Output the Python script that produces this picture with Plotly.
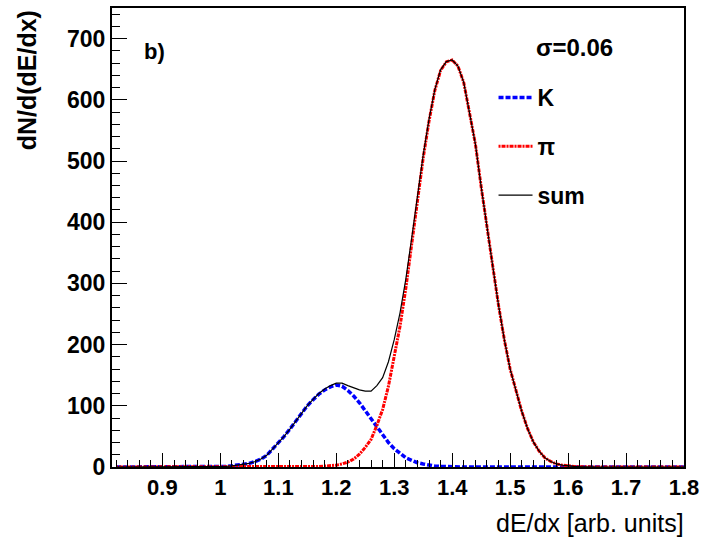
import plotly.graph_objects as go

# bin centres (dE/dx, arb. units)
x_bins = [0.82, 0.83, 0.84, 0.85, 0.86, 0.87, 0.88, 0.89, 0.90, 0.91,
          0.92, 0.93, 0.94, 0.95, 0.96, 0.97, 0.98, 0.99, 1.00, 1.01,
          1.02, 1.03, 1.04, 1.05, 1.06, 1.07, 1.08, 1.09, 1.10, 1.11,
          1.12, 1.13, 1.14, 1.15, 1.16, 1.17, 1.18, 1.19, 1.20, 1.21,
          1.22, 1.23, 1.24, 1.25, 1.26, 1.27, 1.28, 1.29, 1.30, 1.31,
          1.32, 1.33, 1.34, 1.35, 1.36, 1.37, 1.38, 1.39, 1.40, 1.41,
          1.42, 1.43, 1.44, 1.45, 1.46, 1.47, 1.48, 1.49, 1.50, 1.51,
          1.52, 1.53, 1.54, 1.55, 1.56, 1.57, 1.58, 1.59, 1.60, 1.61,
          1.62, 1.63, 1.64, 1.65, 1.66, 1.67, 1.68, 1.69, 1.70, 1.71,
          1.72, 1.73, 1.74, 1.75, 1.76, 1.77, 1.78, 1.79, 1.80]

kaon = [0]*17 + [0.5, 1, 1, 2, 3, 4, 6, 9, 13, 19,
                 29, 39, 50, 62, 75, 88, 100, 110, 119, 126,
                 131, 134, 132, 125, 116, 105, 92, 79, 65, 52,
                 40, 30, 22, 15, 11, 7, 5, 3, 1.5, 1,
                 0.5] + [0]*41

pion = [0]*33 + [0.3, 0.5, 1, 1.5, 2, 3, 5, 8, 13, 21,
                 32, 45, 68, 94, 132, 178, 230, 292, 362, 438,
                 505, 565, 615, 648, 662, 665, 655, 628, 578, 528,
                 458, 390, 328, 264, 208, 160, 124, 91, 63, 41,
                 26, 15, 9, 5, 3, 1.5, 1, 0.5] + [0]*18

total = [0]*17 + [0.5, 1, 1, 2, 3, 4, 6, 9, 13, 19,
                  29, 39, 50, 62, 75, 88, 100.3, 110.5, 120, 127.5,
                  133, 137, 137, 133, 129, 126, 124, 124, 133, 146,
                  172, 208, 252, 307, 373, 445, 510, 568, 616.5, 649,
                  662.5, 665, 655, 628, 578, 528, 458, 390, 328, 264,
                  208, 160, 124, 91, 63, 41, 26, 15, 9, 5,
                  3, 1.5, 1, 0.5] + [0]*18

y_ticks = [0, 100, 200, 300, 400, 500, 600, 700]
x_ticks = [0.9, 1.0, 1.1, 1.2, 1.3, 1.4, 1.5, 1.6, 1.7, 1.8]
x_labels = ["0.9", "1", "1.1", "1.2", "1.3", "1.4", "1.5", "1.6", "1.7", "1.8"]

FONT = "Liberation Sans, Arial, sans-serif"

fig = go.Figure()
fig.add_trace(go.Scatter(x=x_bins, y=kaon, name="K", mode="lines",
                         line=dict(color="#0000ff", width=3.5, dash="5px,2px"),
                         legendgroup="k"))
fig.add_trace(go.Scatter(x=x_bins, y=pion, name="π", mode="lines",
                         line=dict(color="#ff0000", width=3, dash="2px,1px,4px,1px"),
                         legendgroup="p"))
fig.add_trace(go.Scatter(x=x_bins, y=total, name="sum", mode="lines",
                         line=dict(color="#000000", width=1.2),
                         legendgroup="s"))

fig.update_layout(
    width=705, height=542,
    margin=dict(l=112, r=19, t=6, b=75),
    paper_bgcolor="white", plot_bgcolor="white",
    font=dict(family=FONT, color="black"),
    showlegend=True,
    legend=dict(x=0.667, y=0.852, xanchor="left", yanchor="top",
                bgcolor="rgba(0,0,0,0)", borderwidth=0,
                font=dict(size=23, family=FONT, weight="bold"),
                tracegroupgap=16, itemwidth=34),
    xaxis=dict(range=[0.813, 1.8], tickmode="array", tickvals=x_ticks,
               ticktext=x_labels, ticks="inside", ticklen=14, tickwidth=1,
               tickcolor="black", showline=True, linecolor="black",
               linewidth=2, mirror=True, showgrid=False, zeroline=False,
               tickfont=dict(size=22, family=FONT, weight="bold"),
               minor=dict(dtick=0.02, tick0=0.8, ticks="inside", ticklen=7,
                          tickwidth=1, tickcolor="black", showgrid=False)),
    yaxis=dict(range=[0, 750], tickmode="array", tickvals=y_ticks,
               ticks="inside", ticklen=15, tickwidth=1, tickcolor="black",
               showline=True, linecolor="black", linewidth=2, mirror=True,
               showgrid=False, zeroline=False,
               tickfont=dict(size=23, family=FONT, weight="bold"),
               minor=dict(dtick=20, tick0=0, ticks="inside", ticklen=8,
                          tickwidth=1, tickcolor="black", showgrid=False)),
    annotations=[
        dict(text="dN/d(dE/dx)", textangle=-90, xref="paper", yref="paper",
             x=-0.148, y=1.0, xanchor="center", yanchor="top",
             showarrow=False, font=dict(size=25, family=FONT, weight="bold")),
        dict(text="dE/dx [arb. units]", xref="paper", yref="paper",
             x=1.003, y=-0.121, xanchor="right", yanchor="middle",
             showarrow=False, font=dict(size=25, family=FONT)),
        dict(text="b)", xref="paper", yref="paper", x=0.053, y=0.906,
             xanchor="left", yanchor="middle", showarrow=False,
             font=dict(size=22, family=FONT, weight="bold")),
        dict(text="σ=0.06", xref="paper", yref="paper", x=0.738, y=0.914,
             xanchor="left", yanchor="middle", showarrow=False,
             font=dict(size=24, family=FONT, weight="bold")),
    ],
)

fig.write_html("out.html")
